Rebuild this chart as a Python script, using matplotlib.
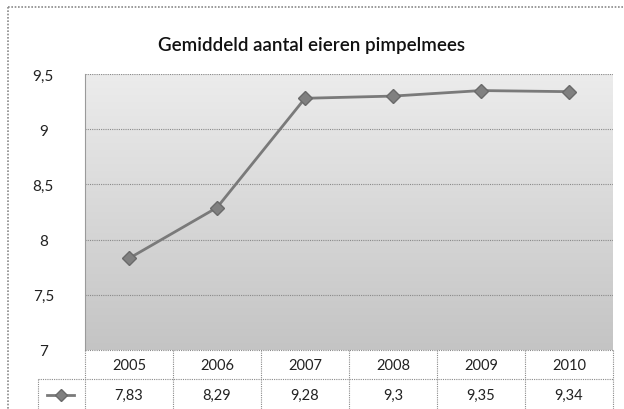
import matplotlib
matplotlib.use("Agg")
import matplotlib.pyplot as plt
import numpy as np
from matplotlib.lines import Line2D

years = ["2005", "2006", "2007", "2008", "2009", "2010"]
values = [7.83, 8.29, 9.28, 9.3, 9.35, 9.34]
value_labels = ["7,83", "8,29", "9,28", "9,3", "9,35", "9,34"]
yticks = [7, 7.5, 8, 8.5, 9, 9.5]
ytick_labels = ["7", "7,5", "8", "8,5", "9", "9,5"]
title = "Gemiddeld aantal eieren pimpelmees"

W, H = 624, 410
plt.rcParams['font.family'] = ['Lato', 'DejaVu Sans']
fig = plt.figure(figsize=(W / 100, H / 100), dpi=100)
fig.patch.set_facecolor("white")

def fx(x):
    return x / W

def fy(y):
    return 1 - y / H

# plot area in pixels
L, R, T, B = 85, 613, 75, 351
ax = fig.add_axes([fx(L), fy(B), fx(R - L), (B - T) / H])
ax.set_xlim(-0.5, len(years) - 0.5)
ax.set_ylim(7, 9.5)

# gradient background
grad = np.linspace(0, 1, 256).reshape(-1, 1)
ax.imshow(grad, extent=[-0.5, len(years) - 0.5, 7, 9.5], aspect="auto",
          cmap=matplotlib.colors.LinearSegmentedColormap.from_list(
              "g", ["#c4c4c4", "#ececec"]), origin="lower", zorder=0)

for yv in yticks[1:]:
    ax.axhline(yv, color="#8a8a8a", lw=0.8, ls=(0, (1, 1)), zorder=1)

x = np.arange(len(years))
ax.plot(x, values, color="#7a7a7a", lw=2, marker="D", markersize=7,
        markerfacecolor="#808080", markeredgecolor="#6a6a6a", zorder=3)

ax.set_xticks([])
ax.set_yticks(yticks)
ax.set_yticklabels(ytick_labels, fontsize=11, color="#222222")
ax.tick_params(axis="y", length=0, pad=30)
for lab in ax.get_yticklabels():
    lab.set_horizontalalignment("center")
for s in ["top", "right", "bottom"]:
    ax.spines[s].set_visible(False)
ax.spines["left"].set_color("#9a9a9a")
ax.spines["left"].set_linewidth(0.8)
ax.spines["left"].set_linestyle((0, (1, 1)))

fig.text(fx(312), fy(45), title, ha="center", va="center", fontsize=13.5,
         fontweight="semibold", color="#111111")

# outer frame
dot = (0, (1, 1))
def fline(xs, ys, **kw):
    fig.add_artist(Line2D([fx(v) for v in xs], [fy(v) for v in ys],
                          transform=fig.transFigure, **kw))

fline([8, 8], [8, 412], color="#8a8a8a", lw=1.2, ls=dot)
fline([8, 626], [8, 8], color="#8a8a8a", lw=1.2, ls=dot)

# data table
row1, row2, bottom = 351, 380, 412
colw = (R - L) / len(years)
tk = dict(color="#8a8a8a", lw=0.8, ls=dot)
fline([L, R], [row1, row1], **tk)
fline([38, R], [row2, row2], **tk)
fline([38, 38], [row2, bottom], **tk)
for i in range(len(years) + 1):
    xx = L + i * colw
    fline([xx, xx], [row1, bottom], **tk)
for i, (yr, vl) in enumerate(zip(years, value_labels)):
    cx = L + (i + 0.5) * colw
    fig.text(fx(cx), fy(366), yr, ha="center", va="center", fontsize=10.5,
             color="#222222")
    fig.text(fx(cx), fy(396), vl, ha="center", va="center", fontsize=10.5,
             color="#222222")

# legend key
fline([47, 74], [396, 396], color="#7a7a7a", lw=2)
fig.add_artist(Line2D([fx(60.5)], [fy(396)], transform=fig.transFigure,
                      marker="D", markersize=6, color="#808080",
                      markeredgecolor="#6a6a6a", lw=0))

fig.savefig("out.png", dpi=100)
